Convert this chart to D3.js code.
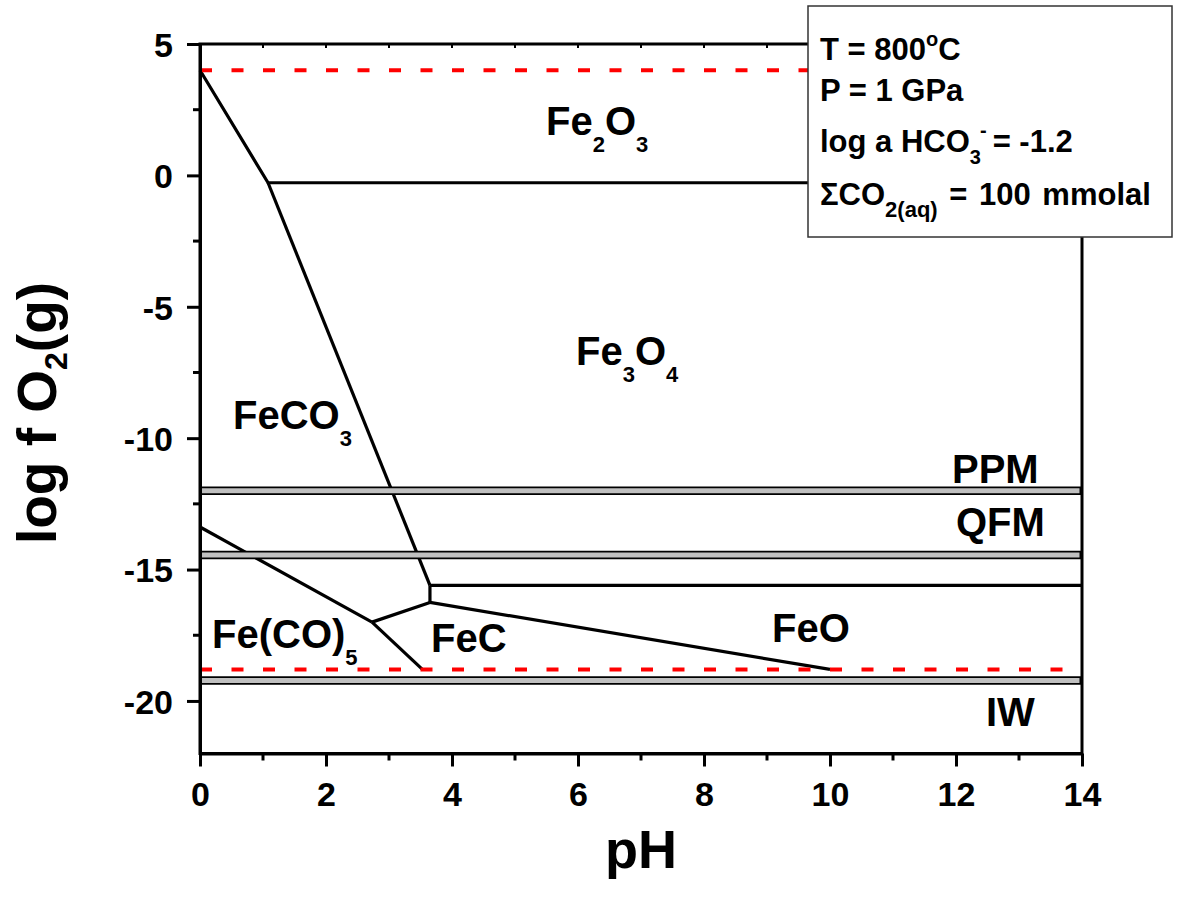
<!DOCTYPE html>
<html>
<head>
<meta charset="utf-8">
<script src="https://cdn.jsdelivr.net/npm/d3@7"></script>
<style>
  body { margin: 0; background: #fff; }
  text { font-family: "Liberation Sans", Arial, sans-serif; font-weight: bold; fill: #000; }
</style>
</head>
<body>
<svg id="chart"></svg>
<script>
const width = 1180;
const height = 901;

// Ejes
const xDomain = [0, 14];
const yDomain = [-22, 5];
const xTicks = [0, 2, 4, 6, 8, 10, 12, 14];
const xMinor = [1, 3, 5, 7, 9, 11, 13];
const yTicks = [5, 0, -5, -10, -15, -20];
const yMinor = [2.5, -2.5, -7.5, -12.5, -17.5];

// Limites de campos de estabilidad [pH, log fO2]
const hematiteMagnetite = [[0, 4], [1.08, -0.28], [14, -0.28]];
const sideriteMagnetite = [[1.08, -0.28], [3.65, -15.6]];
const magnetiteWustite = [[3.65, -15.6], [14, -15.6]];
const sideriteStep = [[3.65, -15.6], [3.65, -16.25]];
const carbideWustite = [[3.65, -16.25], [10, -18.8]];
const carbideSiderite = [[2.73, -17.0], [3.65, -16.25]];
const carbonylSiderite = [[0, -13.38], [2.73, -17.0]];
const carbonylCarbide = [[2.73, -17.0], [3.53, -18.8]];
const boundaries = [hematiteMagnetite, sideriteMagnetite, magnetiteWustite, sideriteStep,
  carbideWustite, carbideSiderite, carbonylSiderite, carbonylCarbide];

// Limites de estabilidad del agua (rojo)
const waterLimits = [4, -18.8];

// Buffers
const bufferNames = ["PPM", "QFM", "IW"];
const bufferValues = [-12.0, -14.45, -19.22];

// Etiquetas de campos: [texto, subindice], posicion en px del texto
const fieldLabels = [
  { parts: [["Fe", 0], ["2", 1], ["O", 0], ["3", 1]], x: 546, y: 135 },
  { parts: [["Fe", 0], ["3", 1], ["O", 0], ["4", 1]], x: 576, y: 365 },
  { parts: [["FeCO", 0], ["3", 1]], x: 233, y: 429 },
  { parts: [["Fe(CO)", 0], ["5", 1]], x: 212, y: 648 },
  { parts: [["FeC", 0]], x: 431, y: 652 },
  { parts: [["FeO", 0]], x: 772, y: 642 },
  { parts: [["PPM", 0]], x: 952, y: 483 },
  { parts: [["QFM", 0]], x: 956, y: 536 },
  { parts: [["IW", 0]], x: 986, y: 726 }
];

const svg = d3.select("#chart")
  .attr("width", width)
  .attr("height", height)
  .attr("viewBox", `0 0 ${width} ${height}`);

svg.append("rect").attr("width", width).attr("height", height).attr("fill", "#fff");

const x = d3.scaleLinear().domain(xDomain).range([200, 1082]);
const y = d3.scaleLinear().domain(yDomain).range([753.5, 44]);

const line = d3.line().x(d => x(d[0])).y(d => y(d[1]));

// Lineas de frontera
svg.append("g").selectAll("path")
  .data(boundaries)
  .join("path")
  .attr("d", line)
  .attr("fill", "none")
  .attr("stroke", "#000")
  .attr("stroke-width", 3.2)
  .attr("stroke-linejoin", "miter");

// Buffers: linea negra gruesa con relleno gris
const bufG = svg.append("g");
bufG.selectAll("line.out")
  .data(bufferValues)
  .join("line")
  .attr("class", "out")
  .attr("x1", x(0)).attr("x2", x(14) - 1)
  .attr("y1", d => y(d)).attr("y2", d => y(d))
  .attr("stroke", "#000")
  .attr("stroke-width", 8.5);
bufG.selectAll("line.in")
  .data(bufferValues)
  .join("line")
  .attr("class", "in")
  .attr("x1", x(0) + 1.5).attr("x2", x(14) - 2.5)
  .attr("y1", d => y(d)).attr("y2", d => y(d))
  .attr("stroke", "#c0c0c0")
  .attr("stroke-width", 5);

// Limites del agua
svg.append("g").selectAll("line")
  .data(waterLimits)
  .join("line")
  .attr("x1", x(0)).attr("x2", x(14))
  .attr("y1", d => y(d)).attr("y2", d => y(d))
  .attr("stroke", "#ff0000")
  .attr("stroke-width", 4)
  .attr("stroke-dasharray", "12,19.5");

// Marco
svg.append("rect")
  .attr("x", x(0)).attr("y", y(5))
  .attr("width", x(14) - x(0)).attr("height", y(-22) - y(5))
  .attr("fill", "none")
  .attr("stroke", "#000")
  .attr("stroke-width", 3);

// Eje X
const xAxis = svg.append("g")
  .attr("transform", `translate(0,${y(-22)})`)
  .call(d3.axisBottom(x).tickValues(xTicks).tickFormat(d => String(d))
    .tickSize(13).tickSizeOuter(0).tickPadding(15));
xAxis.selectAll(".tick line").attr("stroke-width", 3);
xAxis.append("g").selectAll("line")
  .data(xMinor)
  .join("line")
  .attr("x1", d => x(d)).attr("x2", d => x(d))
  .attr("y1", 0).attr("y2", 7)
  .attr("stroke", "#000").attr("stroke-width", 3);

// Eje Y
const yAxis = svg.append("g")
  .attr("transform", `translate(${x(0)},0)`)
  .call(d3.axisLeft(y).tickValues(yTicks).tickFormat(d => String(d))
    .tickSize(13).tickSizeOuter(0).tickPadding(14));
yAxis.selectAll(".tick line").attr("stroke-width", 3);
yAxis.append("g").selectAll("line")
  .data(yMinor)
  .join("line")
  .attr("y1", d => y(d)).attr("y2", d => y(d))
  .attr("x1", 0).attr("x2", -7)
  .attr("stroke", "#000").attr("stroke-width", 3);

[xAxis, yAxis].forEach(a => {
  a.select(".domain").attr("stroke-width", 3);
  a.selectAll(".tick text")
    .attr("font-size", 34)
    .attr("font-family", "Liberation Sans, Arial, sans-serif")
    .attr("font-weight", "bold")
    .attr("fill", "#000");
});
yAxis.selectAll(".tick text").attr("dy", "0.36em");
xAxis.selectAll(".tick text").attr("dy", "0.72em");

// Marcas superiores (hacia dentro)
svg.append("g").selectAll("line")
  .data(xTicks.concat(xMinor))
  .join("line")
  .attr("x1", d => x(d)).attr("x2", d => x(d))
  .attr("y1", y(5)).attr("y2", y(5) + 4)
  .attr("stroke", "#000").attr("stroke-width", 2);

// Titulos de ejes
svg.append("text")
  .attr("x", x(7)).attr("y", 868)
  .attr("text-anchor", "middle")
  .attr("font-size", 54)
  .text("pH");

const yTitle = svg.append("text")
  .attr("transform", "translate(56,413) rotate(-90)")
  .attr("text-anchor", "middle")
  .attr("font-size", 55);
yTitle.append("tspan").text("log f O");
yTitle.append("tspan").attr("font-size", 32).attr("dy", 11).text("2");
yTitle.append("tspan").attr("dy", -11).text("(g)");

// Etiquetas de campos
const labG = svg.append("g");
fieldLabels.forEach(l => {
  const t = labG.append("text")
    .attr("x", l.x).attr("y", l.y)
    .attr("font-size", 40);
  let prevSub = 0;
  l.parts.forEach(([s, sub]) => {
    const ts = t.append("tspan").text(s);
    if (sub) ts.attr("font-size", 22);
    const dy = (sub ? 17 : 0) - (prevSub ? 17 : 0);
    if (dy) ts.attr("dy", dy);
    prevSub = sub;
  });
});

// Recuadro de condiciones
svg.append("rect")
  .attr("x", 808).attr("y", 6)
  .attr("width", 364).attr("height", 231)
  .attr("fill", "#fff")
  .attr("stroke", "#333")
  .attr("stroke-width", 1.5);

const boxG = svg.append("g").attr("font-size", 31);
const l1 = boxG.append("text").attr("x", 820).attr("y", 60);
l1.append("tspan").text("T = 800");
l1.append("tspan").attr("font-size", 20).attr("dy", -14).text("o");
l1.append("tspan").attr("dy", 14).text("C");

boxG.append("text").attr("x", 820).attr("y", 101).text("P = 1 GPa");

const l3 = boxG.append("text").attr("x", 820).attr("y", 152);
l3.append("tspan").text("log a HCO");
l3.append("tspan").attr("font-size", 20).attr("dy", 12).text("3");
l3.append("tspan").attr("font-size", 20).attr("dx", -1).attr("dy", -27).text("-");
l3.append("tspan").attr("dx", 6).attr("dy", 15).text("= -1.2");

const l4 = boxG.append("text").attr("x", 820).attr("y", 205);
l4.append("tspan").text("\u03A3CO");
l4.append("tspan").attr("font-size", 22).attr("dy", 12).text("2(aq)");
l4.append("tspan").attr("dy", -12).attr("word-spacing", 3).text(" = 100 mmolal");
</script>
</body>
</html>
